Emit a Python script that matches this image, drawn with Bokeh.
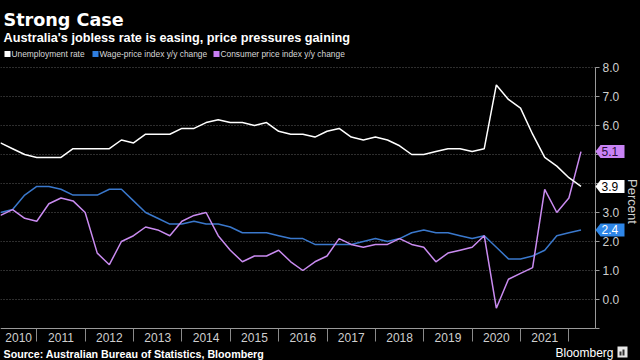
import math
from bokeh.plotting import figure
from bokeh.models import (Label, PolyAnnotation, FixedTicker, Range1d,
                          PrintfTickFormatter, CustomJSTickFormatter)
from bokeh.embed import file_html
from bokeh.resources import INLINE

# ---------------- data (quarterly, 2010Q1 .. 2022Q1) ----------------
quarters = [f"{y}Q{q}" for y in range(2010, 2023) for q in range(1, 5)][:49]

unemployment = [5.4, 5.2, 5.0, 4.9, 4.9, 4.9, 5.2, 5.2, 5.2, 5.2, 5.5, 5.4,
                5.7, 5.7, 5.7, 5.9, 5.9, 6.1, 6.2, 6.1, 6.1, 6.0, 6.1, 5.8,
                5.7, 5.7, 5.6, 5.8, 5.9, 5.6, 5.5, 5.6, 5.5, 5.3, 5.0, 5.0,
                5.1, 5.2, 5.2, 5.1, 5.2, 7.4, 6.9, 6.6, 5.7, 4.9, 4.6, 4.2,
                3.9]
wage_price = [3.0, 3.1, 3.6, 3.9, 3.9, 3.8, 3.6, 3.6, 3.6, 3.8, 3.8, 3.4,
              3.0, 2.8, 2.6, 2.6, 2.7, 2.6, 2.6, 2.5, 2.3, 2.3, 2.3, 2.2,
              2.1, 2.1, 1.9, 1.9, 1.9, 1.9, 2.0, 2.1, 2.0, 2.1, 2.3, 2.4,
              2.3, 2.3, 2.2, 2.1, 2.2, 1.8, 1.4, 1.4, 1.5, 1.7, 2.2, 2.3,
              2.4]
cpi = [2.9, 3.1, 2.8, 2.7, 3.3, 3.5, 3.4, 3.0, 1.6, 1.2, 2.0, 2.2,
       2.5, 2.4, 2.2, 2.7, 2.9, 3.0, 2.2, 1.7, 1.3, 1.5, 1.5, 1.7,
       1.3, 1.0, 1.3, 1.5, 2.1, 1.9, 1.8, 1.9, 1.9, 2.1, 1.9, 1.8,
       1.3, 1.6, 1.7, 1.8, 2.2, -0.3, 0.7, 0.9, 1.1, 3.8, 3.0, 3.5,
       5.1]
year_labels = [str(y) for y in range(2010, 2022)]
y_ticks = list(range(-1, 9))

# quarter-end positions in decimal years
xq = [int(q[:4]) + int(q[5]) * 0.25 for q in quarters]

# ---------------- layout ----------------
W, H = 640, 360
AX_PX, TOP_PX, BOT_PX = 595, 67, 328      # plot-area edges in pixels
X0, X_AX = xq[0], 2022.55                 # axis extent (years)
Y0, Y1 = -1, 8
ppx = AX_PX / (X_AX - X0)
ppy = (BOT_PX - TOP_PX) / (Y1 - Y0)
x_end = X0 + W / ppx
y_top = Y1 + TOP_PX / ppy
y_bot = Y0 - (H - BOT_PX) / ppy


def py_of(v):
    return TOP_PX + (Y1 - v) * ppy


FONT = "Liberation Sans"
GREY = "#cfcfcf"

p = figure(width=W, height=H, x_range=Range1d(X0, x_end),
           y_range=Range1d(y_bot, y_top),
           output_backend="svg", toolbar_location=None, y_axis_location="right",
           min_border=0, min_border_top=0, min_border_bottom=0,
           min_border_left=0, min_border_right=0,
           background_fill_color="black",
           border_fill_color="black", outline_line_color=None)
p.title.visible = False
p.xgrid.visible = False
p.ygrid.visible = False

# grid lines (dotted) limited to the plot area
grid_ticks = [t for t in y_ticks if t >= 0]
p.segment(x0=[X0] * len(grid_ticks), x1=[X_AX] * len(grid_ticks),
          y0=grid_ticks, y1=grid_ticks, line_color="#5c5c5c", line_width=1,
          line_dash="1 2")

BLUE_LINE = "#3a78cc"
PURPLE_LINE = "#c98bf0"
p.line(xq, wage_price, line_color=BLUE_LINE, line_width=1.5)
p.line(xq, cpi, line_color=PURPLE_LINE, line_width=1.5)
p.line(xq, unemployment, line_color="white", line_width=1.5)

# right axis (fixed inside the canvas)
yax = p.yaxis[0]
yax.fixed_location = X_AX
yax.bounds = (Y0, Y1)
yax.ticker = FixedTicker(ticks=y_ticks)
yax.formatter = PrintfTickFormatter(format="%.1f")
yax.major_label_overrides = {-1: "", 4: "", 5: ""}
yax.major_tick_out = 4
yax.major_tick_in = 0
yax.major_tick_line_color = "#9a9a9a"
yax.minor_tick_line_color = None
yax.axis_line_color = "#9a9a9a"
yax.major_label_standoff = 3
yax.major_label_text_font = FONT
yax.major_label_text_font_size = "12px"
yax.major_label_text_color = GREY

# bottom axis: year labels centred between year separators
mids = [(max(int(y), X0) + int(y) + 1) / 2 for y in year_labels]
xax = p.xaxis[0]
xax.fixed_location = Y0
xax.bounds = (X0, X_AX)
xax.ticker = FixedTicker(ticks=mids, minor_ticks=list(range(2011, 2023)))
xax.formatter = CustomJSTickFormatter(code="return Math.floor(tick).toString();")
xax.major_tick_line_color = None
xax.major_tick_out = 0
xax.major_tick_in = 0
xax.minor_tick_out = 13
xax.minor_tick_in = 0
xax.minor_tick_line_color = "#8a8a8a"
xax.axis_line_color = "#9a9a9a"
xax.major_label_standoff = -9
xax.major_label_text_font = FONT
xax.major_label_text_font_size = "12px"
xax.major_label_text_color = GREY


def lab(text, px, py, size, color, font=FONT, style="normal", align="left",
        baseline="middle", angle=0.0):
    p.add_layout(Label(x=px, y=py, x_units="canvas", y_units="canvas",
                       text=text, text_font=font,
                       text_font_size=size, text_font_style=style,
                       text_color=color, text_align=align,
                       text_baseline=baseline, angle=angle))


def poly(pxs, pys, color):
    p.add_layout(PolyAnnotation(xs=list(pxs), ys=list(pys),
                                xs_units="canvas", ys_units="canvas",
                                fill_color=color, fill_alpha=1.0,
                                line_color=None))


# headings
lab("Strong Case", 3, 19.5, "17.6px", "white", font="DejaVu Sans", style="bold",
    baseline="alphabetic")
lab("Australia's jobless rate is easing, price pressures gaining", 3, 37,
    "12.7px", "white", style="bold", baseline="alphabetic")

# legend
legend = [("Unemployment rate", "white", 4),
          ("Wage-price index y/y change", "#2f7ee0", 92),
          ("Consumer price index y/y change", "#c77df2", 213)]
for text, col, x0 in legend:
    poly([x0, x0 + 6, x0 + 6, x0], [50.5, 50.5, 56.5, 56.5], col)
    lab(text, x0 + 7, 53.5, "8.4px", "#d8d8d8")

# last-value tags on the right axis
tags = [(cpi[-1], "#c983f5", "#2a0d3a"),
        (unemployment[-1], "white", "black"),
        (wage_price[-1], "#2e86e8", "white")]
for v, fill, tcol in tags:
    yc = py_of(v)
    poly([AX_PX, AX_PX + 5, AX_PX + 29, AX_PX + 29, AX_PX + 5],
         [yc, yc - 6.5, yc - 6.5, yc + 6.5, yc + 6.5], fill)
    lab(f"{v:.1f}", AX_PX + 6, yc, "12px", tcol)

# axis title
lab("Percent", 632, 201, "13px", GREY, align="center", angle=-math.pi / 2)

# footer
lab("Source: Australian Bureau of Statistics, Bloomberg", 3, 353, "10.7px",
    "white", style="bold")
lab("Bloomberg", 613, 352, "12px", "white", align="right")
poly([617, 627, 627, 617], [346, 346, 357, 357], "#e8e8e8")
poly([619, 621, 621, 619], [351, 351, 355, 355], "#333333")
poly([622, 624, 624, 622], [349, 349, 355, 355], "#333333")

html = file_html(p, INLINE)
html = html.replace("</head>", "<style>html,body{background:#000000;}</style></head>", 1)
open("out.html", "w").write(html)
